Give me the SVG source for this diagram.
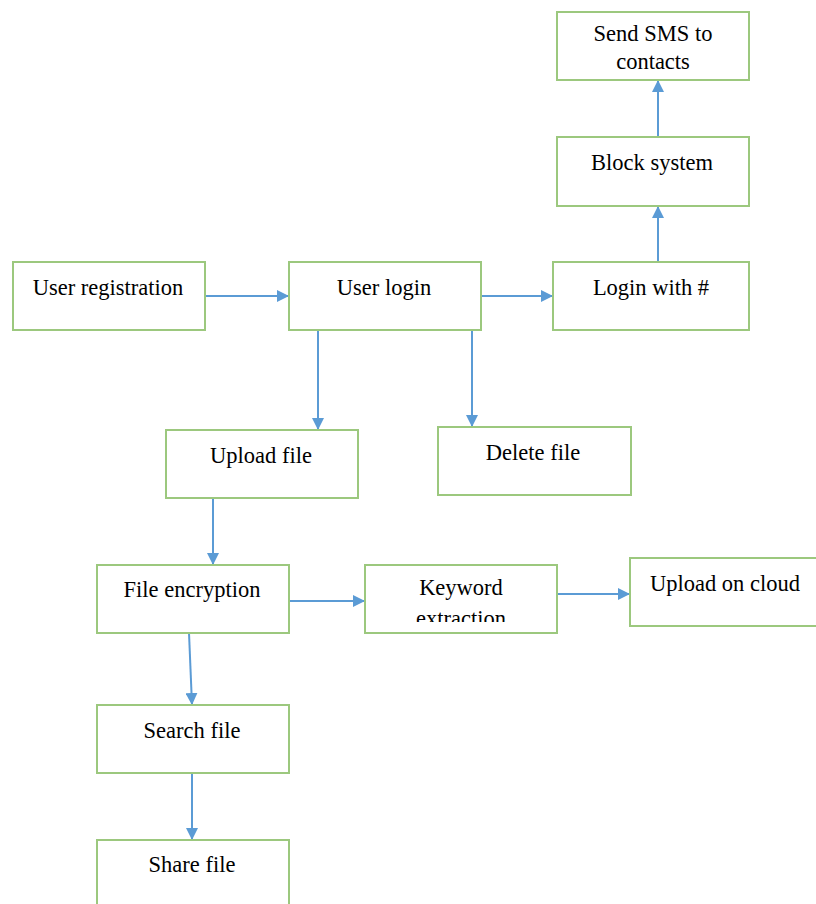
<svg xmlns="http://www.w3.org/2000/svg" width="816" height="904" viewBox="0 0 816 904">
<style>
.box{fill:#fff;stroke:#9cc87e;stroke-width:2}
.t{font-family:"Liberation Serif","Times New Roman",serif;font-size:22.5px;fill:#000;text-anchor:middle}
.c{stroke:#5b9bd5;stroke-width:2;fill:none;marker-end:url(#ah)}
</style>
<defs>
<marker id="ah" viewBox="0 0 10 10" refX="10" refY="5" markerWidth="12" markerHeight="12" markerUnits="userSpaceOnUse" orient="auto"><path d="M0,0L10,5L0,10z" fill="#5b9bd5"/></marker>
<clipPath id="kc"><rect x="365" y="565" width="192" height="57"/></clipPath>
</defs>
<rect width="816" height="904" fill="#fff"/>
<g id="connectors">
<path class="c" d="M205,296H289"/>
<path class="c" d="M481,296H553"/>
<path class="c" d="M658,262V206"/>
<path class="c" d="M658,137V80"/>
<path class="c" d="M318,330V430"/>
<path class="c" d="M472,330V427"/>
<path class="c" d="M213,498V565"/>
<path class="c" d="M289,601H365"/>
<path class="c" d="M557,594H630"/>
<path class="c" d="M189,633L192,705"/>
<path class="c" d="M192,773V840"/>
</g>
<g id="sms"><rect class="box" x="557" y="12" width="192" height="68"/><text class="t" x="653" y="41">Send SMS to</text><text class="t" x="653" y="69">contacts</text></g>
<g id="block"><rect class="box" x="557" y="137" width="192" height="69"/><text class="t" x="652" y="170">Block system</text></g>
<g id="loginhash"><rect class="box" x="553" y="262" width="196" height="68"/><text class="t" x="651" y="295">Login with #</text></g>
<g id="reg"><rect class="box" x="13" y="262" width="192" height="68"/><text class="t" x="108" y="295">User registration</text></g>
<g id="login"><rect class="box" x="289" y="262" width="192" height="68"/><text class="t" x="384" y="295">User login</text></g>
<g id="upload"><rect class="box" x="166" y="430" width="192" height="68"/><text class="t" x="261" y="463">Upload file</text></g>
<g id="delete"><rect class="box" x="438" y="427" width="193" height="68"/><text class="t" x="533" y="460">Delete file</text></g>
<g id="enc"><rect class="box" x="97" y="565" width="192" height="68"/><text class="t" x="192" y="597">File encryption</text></g>
<g id="keyword"><rect class="box" x="365" y="565" width="192" height="68"/><g clip-path="url(#kc)"><text class="t" x="461" y="595">Keyword</text><text class="t" x="461" y="626">extraction</text></g></g>
<g id="cloud"><rect class="box" x="630" y="558" width="200" height="68"/><text class="t" x="725" y="591">Upload on cloud</text></g>
<g id="search"><rect class="box" x="97" y="705" width="192" height="68"/><text class="t" x="192" y="738">Search file</text></g>
<g id="share"><rect class="box" x="97" y="840" width="192" height="80"/><text class="t" x="192" y="872">Share file</text></g>
</svg>
